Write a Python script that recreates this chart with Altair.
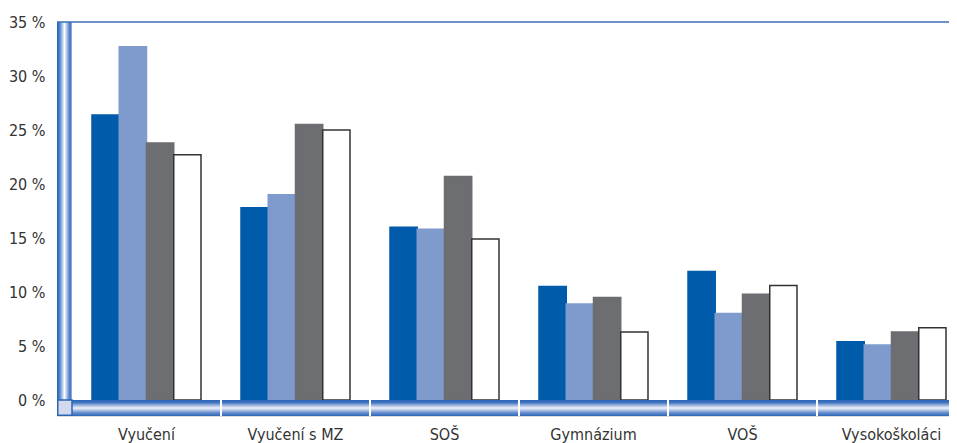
import altair as alt
import pandas as pd

categories = ["Vyučení", "Vyučení s MZ", "SOŠ", "Gymnázium", "VOŠ", "Vysokoškoláci"]
series_names = ["řada 1", "řada 2", "řada 3", "řada 4"]
series_1 = [26.4, 17.8, 16.0, 10.5, 11.9, 5.4]
series_2 = [32.7, 19.0, 15.8, 8.9, 8.0, 5.1]
series_3 = [23.8, 25.5, 20.7, 9.5, 9.8, 6.3]
series_4 = [22.7, 25.0, 14.9, 6.3, 10.6, 6.7]
y_ticks = [0, 5, 10, 15, 20, 25, 30, 35]

fill_colors = ["#005BAA", "#7F9ACD", "#6D6E71", "#FFFFFF"]
stroke_colors = ["#005BAA", "#7F9ACD", "#6D6E71", "#333333"]

rows = []
for name, vals in zip(series_names, [series_1, series_2, series_3, series_4]):
    for c, v in zip(categories, vals):
        rows.append({"cat": c, "series": name, "value": v})
df = pd.DataFrame(rows)
sep_df = pd.DataFrame({"cat": categories[1:]})

W = 892
H = 394
FONT = "DejaVu Sans Condensed"

xscale = alt.Scale(domain=categories, range=[15, 909], paddingInner=0, paddingOuter=0)
yscale = alt.Scale(domain=[-1.48, 35], nice=False, zero=False)

wall_grad = alt.LinearGradient(
    gradient="linear", x1=0, x2=1, y1=0, y2=0,
    stops=[
        alt.GradientStop(color="#1E5FB0", offset=0),
        alt.GradientStop(color="#5A8AD0", offset=0.2),
        alt.GradientStop(color="#FFFFFF", offset=0.5),
        alt.GradientStop(color="#8FA8DC", offset=0.72),
        alt.GradientStop(color="#3A6FC0", offset=0.88),
        alt.GradientStop(color="#A9BBE3", offset=1),
    ],
)
floor_grad = alt.LinearGradient(
    gradient="linear", x1=0, x2=0, y1=0, y2=1,
    stops=[
        alt.GradientStop(color="#2A65B5", offset=0),
        alt.GradientStop(color="#3E72C0", offset=0.15),
        alt.GradientStop(color="#F0F3FA", offset=0.5),
        alt.GradientStop(color="#6C92D0", offset=0.78),
        alt.GradientStop(color="#2A65B5", offset=1),
    ],
)

base = alt.Chart(df)

bars = base.mark_bar(strokeWidth=1.5).encode(
    x=alt.X("cat:N", scale=xscale, sort=categories,
            axis=alt.Axis(title=None, domain=False, ticks=False, labelAngle=0,
                          labelFont=FONT, labelFontSize=16, labelColor="#333333",
                          labelPadding=10)),
    xOffset=alt.XOffset("series:N", sort=series_names,
                        scale=alt.Scale(paddingInner=0, paddingOuter=0.734)),
    y=alt.Y("value:Q", scale=yscale,
            axis=alt.Axis(title=None, values=y_ticks, domain=False, ticks=False,
                          labelExpr="datum.value + ' %'", labelFont=FONT,
                          labelFontSize=16, labelColor="#333333", labelPadding=12,
                          grid=True, gridColor="#FFFFFF", gridWidth=2, gridOpacity=1)),
    fill=alt.Fill("series:N", scale=alt.Scale(domain=series_names, range=fill_colors), legend=None),
    stroke=alt.Stroke("series:N", scale=alt.Scale(domain=series_names, range=stroke_colors), legend=None),
)

wall = alt.Chart(pd.DataFrame({"a": [0]})).mark_rect(fill=wall_grad).encode(
    x=alt.value(0), x2=alt.value(15), y=alt.datum(35), y2=alt.datum(0)
)
floor = alt.Chart(pd.DataFrame({"a": [0]})).mark_rect(fill=floor_grad).encode(
    x=alt.value(0), x2=alt.value(W), y=alt.datum(0), y2=alt.value(H)
)
corner = alt.Chart(pd.DataFrame({"a": [0]})).mark_rect(
    fill="#D3DAEE", stroke="#2A65B5", strokeWidth=1.5
).encode(x=alt.value(0.75), x2=alt.value(15), y=alt.datum(0), y2=alt.value(H - 0.75))

seps = alt.Chart(sep_df).mark_rule(color="#FFFFFF", strokeWidth=2).encode(
    x=alt.X("cat:N", scale=xscale, sort=categories, bandPosition=0),
    y=alt.datum(0), y2=alt.value(H)
)
top_line = alt.Chart(pd.DataFrame({"a": [0]})).mark_rule(color="#3A6FB5", strokeWidth=1.5).encode(
    x=alt.value(0), x2=alt.value(W), y=alt.datum(35)
)

chart = alt.layer(bars, wall, floor, corner, seps, top_line).properties(
    width=W, height=H,
    autosize=alt.AutoSizeParams(type="none"),
    padding={"left": 49, "top": 14, "right": 0, "bottom": 27},
).configure_view(fill="#D3DAEE", stroke=None).configure(background="#FFFFFF")

chart.save("out.html", embed_options={"renderer": "svg", "actions": False})
